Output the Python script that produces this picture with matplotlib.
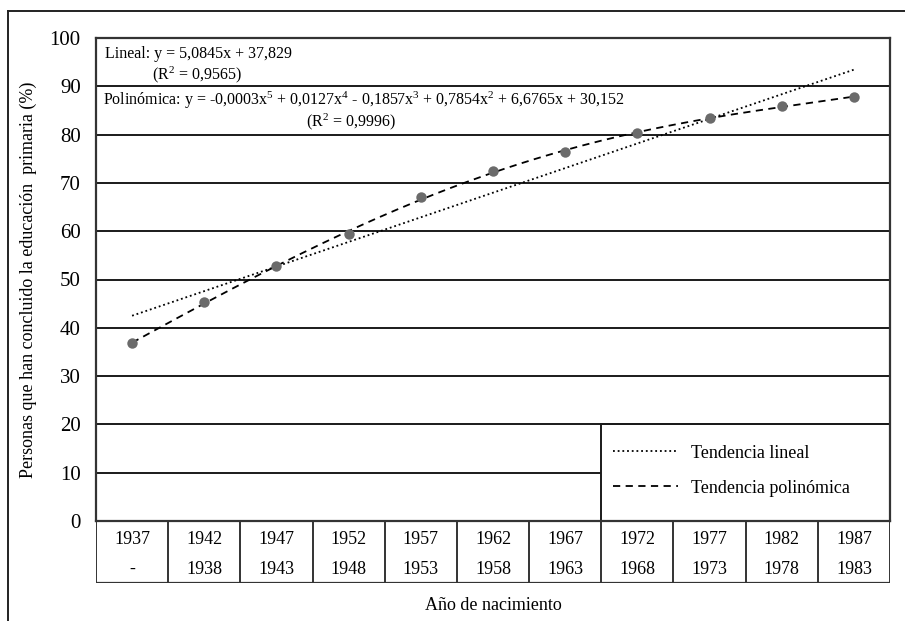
import numpy as np
import matplotlib
matplotlib.use("Agg")
from matplotlib import pyplot as plt
from matplotlib.lines import Line2D
from matplotlib.patches import Rectangle

plt.rcParams['font.family'] = ['Liberation Serif', 'DejaVu Serif']
plt.rcParams['mathtext.fontset'] = 'custom'
plt.rcParams['mathtext.rm'] = 'Liberation Serif'
plt.rcParams['mathtext.it'] = 'Liberation Serif:italic'

# data
x_pos = np.arange(1, 12)
pct = [36.8, 45.4, 52.7, 59.4, 67.0, 72.5, 76.5, 80.3, 83.4, 85.9, 87.8]
row_top = ["1937", "1942", "1947", "1952", "1957", "1962", "1967",
           "1972", "1977", "1982", "1987"]
row_bottom = ["-", "1938", "1943", "1948", "1953", "1958", "1963",
              "1968", "1973", "1978", "1983"]
yticks = list(range(0, 101, 10))

W, H = 905, 621
fig = plt.figure(figsize=(W / 100, H / 100), dpi=100)

# pixel helpers for layout
def fx(px):
    return px / W

def fy(py):
    return 1 - py / H

left, right, top, bottom, tbl_bottom = 96, 890, 38, 521, 583
ax = fig.add_axes([fx(left), fy(bottom), fx(right - left), fy(top) - fy(bottom)])
ax.set_xlim(0.5, 11.5)
ax.set_ylim(0, 100)

# gridlines
for v in yticks[2:-1]:
    ax.axhline(v, color='#1a1a1a', lw=1.4, zorder=1)
ax.hlines(10, 0.5, 7.5, color='#1a1a1a', lw=1.4, zorder=1)

# legend box
ax.add_patch(Rectangle((7.5, 0), 4, 20, fill=False, ec='#1a1a1a', lw=1.4, zorder=1))

# trend lines (least-squares fits)
xf = np.linspace(1, 11, 200)
lin = np.polyfit(x_pos, pct, 1)
poly = np.polyfit(x_pos, pct, 5)
l1, = ax.plot(xf, np.polyval(lin, xf), color='black', lw=1.3,
              linestyle=(0, (1, 1.6)), zorder=2, label='Tendencia lineal')
l2, = ax.plot(xf, np.polyval(poly, xf), color='black', lw=1.3,
              linestyle=(0, (4, 3)), zorder=2, label='Tendencia polinómica')
ax.plot(x_pos, pct, 'o', color='#6b6b6b', ms=7.5, mec='none', zorder=3)

ax.legend(handles=[l1, l2], loc='center left', bbox_to_anchor=(7.66, 10.4),
          bbox_transform=ax.transData, frameon=False, fontsize=13,
          handlelength=3.6, handletextpad=0.75, labelspacing=1.0,
          borderpad=0, borderaxespad=0)

# equations
ax.text(0.62, 96.7, "Lineal: y = 5,0845x + 37,829", fontsize=11.5, va='center')
ax.text(1.28, 92.4, "(R$^2$ = 0,9565)", fontsize=11.5, va='center')
ax.text(0.6, 87.0, "Polinómica: y = -0,0003x$^5$ + 0,0127x$^4$ - 0,1857x$^3$ + "
        "0,7854x$^2$ + 6,6765x + 30,152", fontsize=11.5, va='center')
ax.text(3.41, 82.7, "(R$^2$ = 0,9996)", fontsize=11.5, va='center')

ax.set_yticks(yticks)
ax.set_yticklabels([str(v) for v in yticks], fontsize=15)
ax.tick_params(axis='y', length=0, pad=11)
ax.set_xticks([])
for s in ['left', 'right', 'top', 'bottom']:
    ax.spines[s].set_color('#333333')
    ax.spines[s].set_linewidth(1.6)
ax.set_ylabel("Personas que han concluido la educación  primaria (%)", fontsize=13,
              labelpad=9)

# category table under the plot
tx = fig.add_axes([fx(left), fy(tbl_bottom), fx(right - left), fy(bottom) - fy(tbl_bottom)])
tx.set_xlim(0.5, 11.5)
tx.set_ylim(1, 0)
tx.axis('off')
tx.vlines(np.arange(0.5, 12), 0, 1, color='#333333', lw=1.4)
tx.hlines(1, 0.5, 11.5, color='#333333', lw=1.6)
for i, (a, b) in enumerate(zip(row_top, row_bottom)):
    tx.text(x_pos[i], 0.3, a, fontsize=13, ha='center', va='center')
    tx.text(x_pos[i], 0.78, b, fontsize=13, ha='center', va='center')

fig.text(fx((left + right) / 2), fy(605), "Año de nacimiento", fontsize=13,
         ha='center', va='center')

# outer frame
fig.add_artist(Line2D([fx(8), 1], [fy(11), fy(11)], color='#222222', lw=1.4))
fig.add_artist(Line2D([fx(8), fx(8)], [0, fy(11)], color='#222222', lw=1.4))

fig.savefig("out.png", dpi=100)
